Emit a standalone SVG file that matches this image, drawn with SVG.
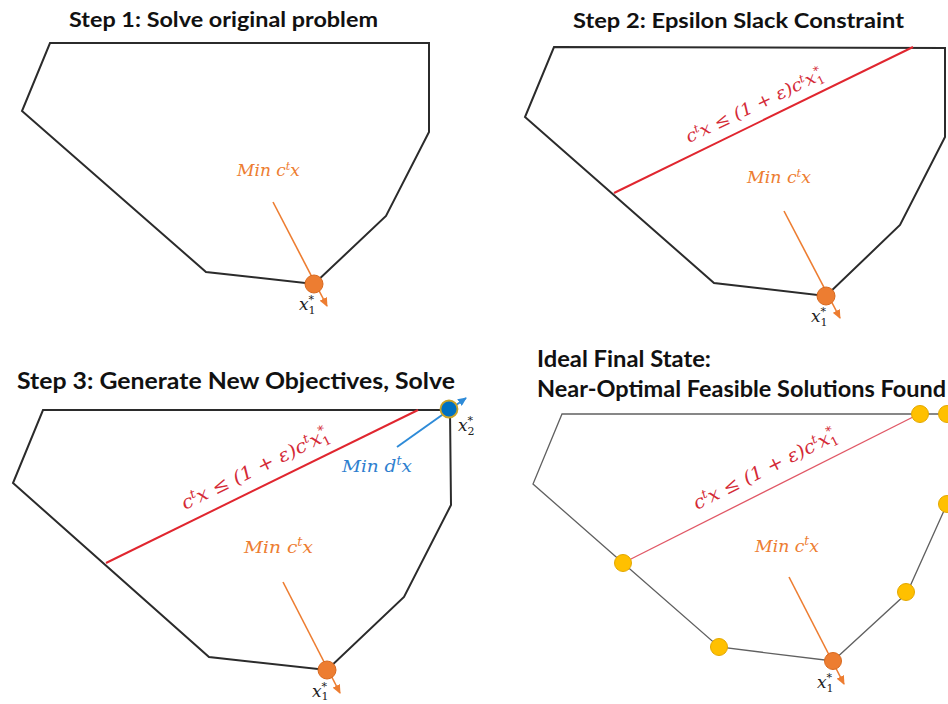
<svg xmlns="http://www.w3.org/2000/svg" width="948" height="704" viewBox="0 0 948 704">
<defs>
<style>
.title{font-family:Lato,"Open Sans","Liberation Sans",sans-serif;font-weight:700;fill:#111;}
.poly{fill:none;stroke:#2b2b2b;stroke-width:2;stroke-linejoin:miter;}
.poly4{fill:none;stroke:#606060;stroke-width:1.3;}
.red{stroke:#e0262f;stroke-width:2;fill:none;}
.red4{stroke:#e05866;stroke-width:1.3;fill:none;}
.oarr{stroke:#ed7d31;stroke-width:1.6;fill:none;}
.barr{stroke:#2e8bd8;stroke-width:2;fill:none;}
.math{font-family:"DejaVu Serif","Liberation Serif",serif;font-style:italic;}
.omath{fill:#ed7d31;}
.rmath{fill:#d42a36;}
.bmath{fill:#2e7fcf;}
.kmath{fill:#222;}
.up{font-style:normal;}
.ocirc{fill:#ed7d31;stroke:#d8691f;stroke-width:1;}
.ycirc{fill:#ffc000;stroke:#e3a800;stroke-width:1;}
</style>
<marker id="ah-o" markerUnits="userSpaceOnUse" markerWidth="9" markerHeight="8" refX="8" refY="4" orient="auto">
<path d="M0,0 L9,4 L0,8 z" fill="#ed7d31"/>
</marker>
<marker id="ah-b" markerUnits="userSpaceOnUse" markerWidth="9" markerHeight="8" refX="8" refY="4" orient="auto">
<path d="M0,0 L9,4 L0,8 z" fill="#2e8bd8"/>
</marker>
</defs>
<rect width="948" height="704" fill="#ffffff"/>

<g id="panel1">
<text class="title" x="69" y="27" font-size="20" textLength="309" lengthAdjust="spacingAndGlyphs">Step 1: Solve original problem</text>
<polygon class="poly" points="50,43 429,43 429,132 386,216 314,284 206,272 22,111"/>
<text class="math omath" x="237" y="176" font-size="16.5" textLength="63" lengthAdjust="spacingAndGlyphs">Min c<tspan font-size="11" dy="-6">t</tspan><tspan dy="6">x</tspan></text>
<text class="math kmath" x="299" y="310" font-size="17">x<tspan class="up" font-size="11" dy="4">1</tspan><tspan class="up" font-size="11" dx="-7" dy="-11">*</tspan></text>
</g>

<g id="panel2">
<text class="title" x="573" y="28" font-size="20" textLength="331" lengthAdjust="spacingAndGlyphs">Step 2: Epsilon Slack Constraint</text>
<polygon class="poly" points="554,47 945,48 945,137 900,225 826,296 714,283 525,117"/>
<line class="red" x1="614" y1="193" x2="913" y2="47"/>
<text class="math rmath" font-size="17" transform="translate(689,143) rotate(-25.5)" textLength="150" lengthAdjust="spacingAndGlyphs">c<tspan font-size="11" dy="-6">t</tspan><tspan dy="6">x ≤ (1 + ε)c</tspan><tspan font-size="11" dy="-6">t</tspan><tspan dy="6">x</tspan><tspan class="up" font-size="11" dy="4">1</tspan><tspan class="up" font-size="11" dx="-6" dy="-11">*</tspan></text>
<text class="math omath" x="747" y="183" font-size="16.5" textLength="64" lengthAdjust="spacingAndGlyphs">Min c<tspan font-size="11" dy="-6">t</tspan><tspan dy="6">x</tspan></text>
<text class="math kmath" x="811" y="322" font-size="17">x<tspan class="up" font-size="11" dy="4">1</tspan><tspan class="up" font-size="11" dx="-7" dy="-11">*</tspan></text>
</g>

<g id="panel3">
<text class="title" x="17" y="389" font-size="22.5" textLength="438" lengthAdjust="spacingAndGlyphs">Step 3: Generate New Objectives, Solve</text>
<polygon class="poly" points="43,410 450,410 451,505 404,597 327,670 209,657 13,483"/>
<line class="red" x1="106" y1="563" x2="418" y2="410"/>
<text class="math rmath" font-size="18.5" transform="translate(185,510) rotate(-26)" textLength="162" lengthAdjust="spacingAndGlyphs">c<tspan font-size="12" dy="-7">t</tspan><tspan dy="7">x ≤ (1 + ε)c</tspan><tspan font-size="12" dy="-7">t</tspan><tspan dy="7">x</tspan><tspan class="up" font-size="12" dy="4">1</tspan><tspan class="up" font-size="12" dx="-7" dy="-12">*</tspan></text>
<text class="math bmath" x="342" y="472" font-size="17.5" textLength="70" lengthAdjust="spacingAndGlyphs">Min d<tspan font-size="12" dy="-7">t</tspan><tspan dy="7">x</tspan></text>
<text class="math omath" x="244" y="553" font-size="17.5" textLength="69" lengthAdjust="spacingAndGlyphs">Min c<tspan font-size="12" dy="-7">t</tspan><tspan dy="7">x</tspan></text>
<text class="math kmath" x="458" y="431" font-size="17">x<tspan class="up" font-size="11" dy="4">2</tspan><tspan class="up" font-size="11" dx="-7" dy="-11">*</tspan></text>
<text class="math kmath" x="312" y="697" font-size="17">x<tspan class="up" font-size="11" dy="3">1</tspan><tspan class="up" font-size="11" dx="-7" dy="-10">*</tspan></text>
</g>

<g id="panel4">
<text class="title" x="537" y="367" font-size="22.5" textLength="174" lengthAdjust="spacingAndGlyphs">Ideal Final State:</text>
<text class="title" x="537" y="397" font-size="22.5" textLength="409" lengthAdjust="spacingAndGlyphs">Near-Optimal Feasible Solutions Found</text>
<polyline class="poly4" points="960,414 562,414 533,484 623,563 719,647 833,661 907,593 947,504 965,465"/>
<line class="red4" x1="623" y1="563" x2="919" y2="414"/>
<text class="math rmath" font-size="18.5" transform="translate(697,510) rotate(-26.5)" textLength="158" lengthAdjust="spacingAndGlyphs">c<tspan font-size="12" dy="-7">t</tspan><tspan dy="7">x ≤ (1 + ε)c</tspan><tspan font-size="12" dy="-7">t</tspan><tspan dy="7">x</tspan><tspan class="up" font-size="12" dy="4">1</tspan><tspan class="up" font-size="12" dx="-7" dy="-12">*</tspan></text>
<text class="math omath" x="755" y="552" font-size="17" textLength="64" lengthAdjust="spacingAndGlyphs">Min c<tspan font-size="12" dy="-7">t</tspan><tspan dy="7">x</tspan></text>
<text class="math kmath" x="817" y="688" font-size="17">x<tspan class="up" font-size="11" dy="4">1</tspan><tspan class="up" font-size="11" dx="-7" dy="-11">*</tspan></text>
</g>

<g id="connectors">
<line class="oarr" x1="273" y1="202" x2="327" y2="306" marker-end="url(#ah-o)"/>
<line class="oarr" x1="784" y1="211" x2="840" y2="318" marker-end="url(#ah-o)"/>
<line class="oarr" x1="283" y1="582" x2="340" y2="693" marker-end="url(#ah-o)"/>
<line class="oarr" x1="789" y1="577" x2="844" y2="684" marker-end="url(#ah-o)"/>
<line class="barr" x1="397" y1="447" x2="466" y2="398" marker-end="url(#ah-b)"/>
</g>

<g id="points">
<circle class="ocirc" cx="314" cy="284" r="9"/>
<circle class="ocirc" cx="826" cy="296" r="9"/>
<circle class="ocirc" cx="327" cy="670" r="9"/>
<circle cx="449" cy="409" r="8.5" fill="#0070c0" stroke="#c9a227" stroke-width="1.8"/>
<circle class="ycirc" cx="920" cy="414" r="8.5"/>
<circle class="ycirc" cx="947" cy="414" r="8.5"/>
<circle class="ycirc" cx="947" cy="504" r="8.5"/>
<circle class="ycirc" cx="906" cy="592" r="8.5"/>
<circle class="ycirc" cx="719" cy="647" r="8.5"/>
<circle class="ycirc" cx="623" cy="563" r="8.5"/>
<circle class="ocirc" cx="833" cy="661" r="8.5"/>
</g>
</svg>
